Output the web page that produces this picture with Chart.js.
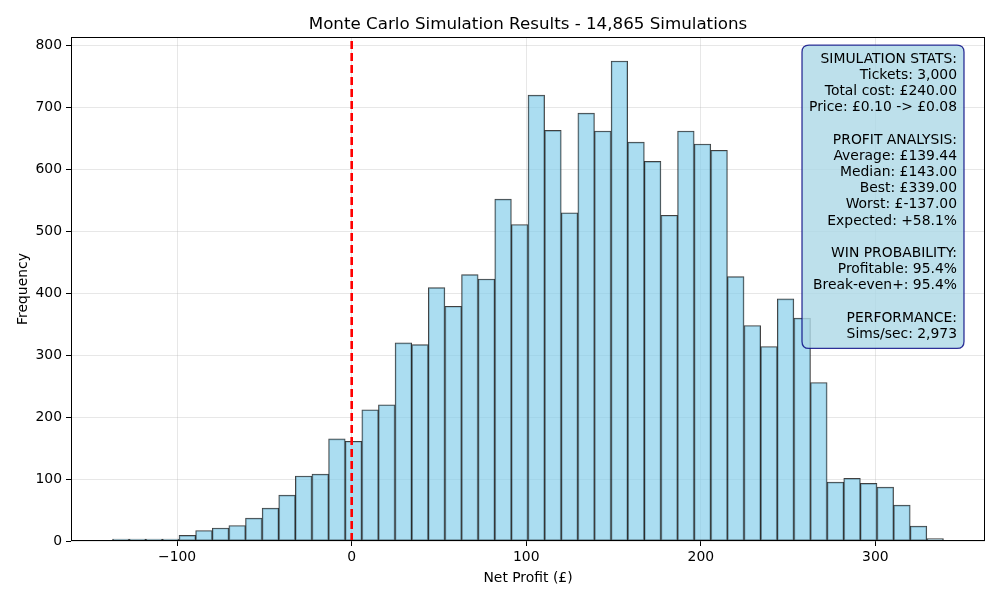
<!DOCTYPE html>
<html>
<head>
<meta charset="utf-8">
<script src="https://cdn.jsdelivr.net/npm/chart.js@4.4.1/dist/chart.umd.min.js"></script>
<style>
  html, body { margin: 0; padding: 0; background: #fff; }
  #wrap { width: 1000px; height: 600px; }
</style>
</head>
<body>
<div id="wrap"><canvas id="c" width="1000" height="600"></canvas></div>
<script>
// ---- data ----
const TITLE = "Monte Carlo Simulation Results - 14,865 Simulations";
const X_LABEL = "Net Profit (£)";
const Y_LABEL = "Frequency";
const HIST_MIN = -137;   // worst result
const HIST_MAX = 339;    // best result
const BIN_COUNT = 50;
const counts = [3,3,3,3,9,17,21,25,37,53,
                74,105,108,165,161,212,220,320,317,409,
                379,430,423,552,511,720,663,530,691,662,
                775,644,613,526,662,641,631,427,348,314,
                391,360,256,95,101,93,87,58,24,4];
const BREAK_EVEN = 0;
const X_MIN = -160.8, X_MAX = 362.8;
const Y_MIN = 0, Y_MAX = 813.75;
const X_TICK_STEP = 100, Y_TICK_STEP = 100;
const statsLines = [
  "SIMULATION STATS:",
  "Tickets: 3,000",
  "Total cost: £240.00",
  "Price: £0.10 -> £0.08",
  "",
  "PROFIT ANALYSIS:",
  "Average: £139.44",
  "Median: £143.00",
  "Best: £339.00",
  "Worst: £-137.00",
  "Expected: +58.1%",
  "",
  "WIN PROBABILITY:",
  "Profitable: 95.4%",
  "Break-even+: 95.4%",
  "",
  "PERFORMANCE:",
  "Sims/sec: 2,973"
];

// bin centres (categories)
const binWidth = (HIST_MAX - HIST_MIN) / BIN_COUNT;
const histData = counts.map((c, i) => ({ x: HIST_MIN + binWidth * (i + 0.5), y: c }));
const lineData = [{ x: BREAK_EVEN, y: Y_MIN }, { x: BREAK_EVEN, y: Y_MAX }];

const FONT = "'DejaVu Sans', 'Liberation Sans', sans-serif";

const framePlugin = {
  id: 'frameAndStats',
  afterDatasetsDraw(chart) {
    const { ctx, chartArea: a } = chart;
    ctx.save();
    // axes frame
    ctx.strokeStyle = '#000';
    ctx.lineWidth = 1;
    ctx.strokeRect(Math.round(a.left) + 0.5, Math.round(a.top) + 0.5,
                   Math.round(a.right - a.left) - 1, Math.round(a.bottom - a.top) - 1);

    // stats box
    ctx.font = '13.9px ' + FONT;
    const lh = 16.2;
    const pad = 7;
    let maxW = 0;
    statsLines.forEach(l => { maxW = Math.max(maxW, ctx.measureText(l).width); });
    const textRight = a.right - 28;
    const boxRight = textRight + pad;
    const boxLeft = textRight - maxW - pad;
    const boxTop = a.top + 8;
    const firstCenter = a.top + 22;
    const boxBottom = firstCenter + lh * (statsLines.length - 1) + 7 + pad;
    const r = 7;
    ctx.beginPath();
    ctx.moveTo(boxLeft + r, boxTop);
    ctx.lineTo(boxRight - r, boxTop);
    ctx.quadraticCurveTo(boxRight, boxTop, boxRight, boxTop + r);
    ctx.lineTo(boxRight, boxBottom - r);
    ctx.quadraticCurveTo(boxRight, boxBottom, boxRight - r, boxBottom);
    ctx.lineTo(boxLeft + r, boxBottom);
    ctx.quadraticCurveTo(boxLeft, boxBottom, boxLeft, boxBottom - r);
    ctx.lineTo(boxLeft, boxTop + r);
    ctx.quadraticCurveTo(boxLeft, boxTop, boxLeft + r, boxTop);
    ctx.closePath();
    ctx.fillStyle = 'rgba(173,216,230,0.8)';
    ctx.fill();
    ctx.strokeStyle = 'rgba(0,0,128,0.8)';
    ctx.lineWidth = 1.3;
    ctx.stroke();

    ctx.fillStyle = '#000';
    ctx.textAlign = 'right';
    ctx.textBaseline = 'middle';
    statsLines.forEach((l, i) => {
      if (l) ctx.fillText(l, textRight, firstCenter + lh * i);
    });
    ctx.restore();
  }
};

new Chart(document.getElementById('c'), {
  type: 'bar',
  data: {
    datasets: [
      {
        type: 'line',
        data: lineData,
        borderColor: '#ff0000',
        borderWidth: 2.6,
        borderDash: [8, 4],
        pointRadius: 0,
        fill: false,
        order: 0
      },
      {
        type: 'bar',
        data: histData,
        backgroundColor: 'rgba(135,206,235,0.7)',
        borderColor: 'rgba(0,0,0,0.75)',
        borderWidth: 1,
        borderSkipped: false,
        barPercentage: 1.0,
        categoryPercentage: 1.0,
        order: 1
      }
    ]
  },
  options: {
    responsive: false,
    animation: false,
    events: [],
    layout: { padding: { left: 0, right: 15, top: 0, bottom: 0 } },
    plugins: {
      legend: { display: false },
      tooltip: { enabled: false },
      title: {
        display: true,
        text: TITLE,
        fullSize: false,
        color: '#000',
        font: { family: FONT, size: 16.7, weight: 'normal', lineHeight: 1.2 },
        padding: { top: 15, bottom: 2 }
      }
    },
    scales: {
      x: {
        type: 'linear',
        min: X_MIN,
        max: X_MAX,
        offset: false,
        afterFit(s) { s.height = 59; },
        grid: { offset: false, color: 'rgba(176,176,176,0.3)', lineWidth: 1, tickColor: '#000', tickLength: 5 },
        border: { display: false },
        ticks: {
          stepSize: X_TICK_STEP,
          includeBounds: false,
          color: '#000',
          padding: 3,
          maxRotation: 0,
          font: { family: FONT, size: 13.9 },
          callback: v => String(v).replace('-', '\u2212')
        },
        title: {
          display: true,
          text: X_LABEL,
          color: '#000',
          font: { family: FONT, size: 13.9 },
          padding: { top: 0, bottom: 13 }
        }
      },
      y: {
        type: 'linear',
        min: Y_MIN,
        max: Y_MAX,
        afterFit(s) { s.width = 71; },
        grid: { color: 'rgba(176,176,176,0.3)', lineWidth: 1, tickColor: '#000', tickLength: 5 },
        border: { display: false },
        ticks: {
          stepSize: Y_TICK_STEP,
          includeBounds: false,
          color: '#000',
          padding: 4,
          font: { family: FONT, size: 13.9 }
        },
        title: {
          display: true,
          text: Y_LABEL,
          color: '#000',
          font: { family: FONT, size: 13.9 },
          padding: { top: 15, bottom: 0 }
        }
      }
    }
  },
  plugins: [framePlugin]
});
</script>
</body>
</html>
